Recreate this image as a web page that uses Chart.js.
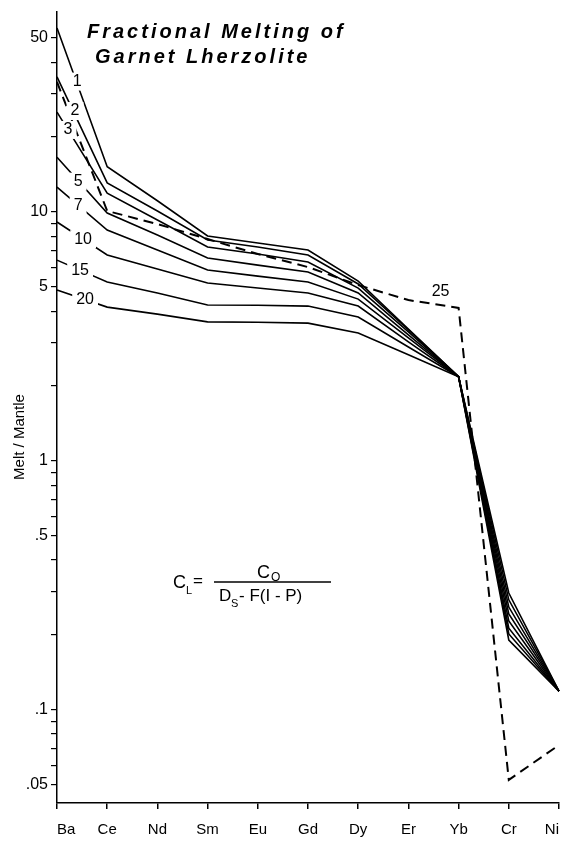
<!DOCTYPE html>
<html>
<head>
<meta charset="utf-8">
<title>Fractional Melting of Garnet Lherzolite</title>
<script src="https://cdn.jsdelivr.net/npm/chart.js@4.4.1/dist/chart.umd.min.js"></script>
<style>
  html, body { margin: 0; padding: 0; background: #fff; }
  #wrap { width: 564px; height: 841px; }
</style>
</head>
<body>
<div id="wrap"><canvas id="meltChart" width="564" height="841"></canvas></div>
<script>
// elements along the bottom
const elements = ['Ba', 'Ce', 'Nd', 'Sm', 'Eu', 'Gd', 'Dy', 'Er', 'Yb', 'Cr', 'Ni'];

// melt / mantle ratio, one array per percent of melting
const melt1  = [54.8, 15.2, 11.1, 8.01, 7.51, 7.04, 5.28, 3.39, 2.18, 0.191, 0.119];
const melt2  = [34.9, 13.1, 10.1, 7.72, 7.24, 6.72, 5.14, 3.36, 2.18, 0.202, 0.119];
const melt3  = [25.2, 11.9, 9.29, 7.24, 6.78, 6.30, 4.95, 3.30, 2.18, 0.213, 0.119];
const melt5  = [16.6, 9.91, 8.08, 6.54, 6.12, 5.74, 4.73, 3.21, 2.18, 0.228, 0.119];
const melt7  = [12.6, 8.47, 7.04, 5.85, 5.53, 5.24, 4.47, 3.12, 2.18, 0.243, 0.119];
const melt10 = [9.12, 6.72, 5.90, 5.19, 4.95, 4.73, 4.19, 3.01, 2.18, 0.259, 0.119];
const melt15 = [6.41, 5.24, 4.73, 4.23, 4.22, 4.19, 3.79, 2.87, 2.18, 0.277, 0.119];
const melt20 = [4.86, 4.15, 3.89, 3.62, 3.61, 3.58, 3.27, 2.67, 2.18, 0.295, 0.119];
// dashed curve
const melt25 = [33.3, 10.1, 8.95, 7.79, 6.78, 6.01, 5.09, 4.43, 4.12, 0.0524, 0.0723];

const curveNames = ['1', '2', '3', '5', '7', '10', '15', '20', '25'];

// y ticks: every mark on the axis, and the ones that carry a number
const yTickValues = [0.05, 0.06, 0.07, 0.08, 0.09, 0.1, 0.2, 0.3, 0.4, 0.5, 0.6, 0.7, 0.8, 0.9,
  1, 2, 3, 4, 5, 6, 7, 8, 9, 10, 20, 30, 40, 50];
const yLabelValues = [50, 10, 5, 1, 0.5, 0.1, 0.05];
const yLabelText = ['50', '10', '5', '1', '.5', '.1', '.05'];

// where each curve label sits: segment index, fraction along it, shift, white box
const labelSpots = [
  { seg: 0, t: 0.40, dy: -2, box: true },
  { seg: 0, t: 0.36, dy: -4, box: true },
  { seg: 0, t: 0.22, dy: 0, box: true },
  { seg: 0, t: 0.42, dy: 1, box: true },
  { seg: 0, t: 0.42, dy: 1, box: true },
  { seg: 0, t: 0.52, dy: 0, box: true },
  { seg: 0, t: 0.46, dy: 0, box: true },
  { seg: 0, t: 0.56, dy: 0, box: true },
  { seg: 7, t: 0.64, dy: -13, box: false }
];

const FONT = '"Liberation Sans", Arial, sans-serif';

const allSeries = [melt1, melt2, melt3, melt5, melt7, melt10, melt15, melt20, melt25];
const datasets = allSeries.map((vals, i) => {
  const dashed = i === allSeries.length - 1;
  return {
    label: curveNames[i],
    data: vals,
    borderColor: '#000',
    borderWidth: dashed ? 2 : 1.6,
    borderDash: dashed ? [10, 6] : [],
    pointRadius: 0,
    tension: 0,
    fill: false
  };
});

// curve numbers, title, formula and the y axis name
const annotations = {
  id: 'annotations',
  afterDatasetsDraw(chart) {
    const ctx = chart.ctx;
    ctx.save();
    ctx.font = '16px ' + FONT;
    ctx.textAlign = 'center';
    ctx.textBaseline = 'middle';
    chart.data.datasets.forEach((ds, i) => {
      const spot = labelSpots[i];
      const pts = chart.getDatasetMeta(i).data;
      const a = pts[spot.seg], b = pts[spot.seg + 1];
      const x = a.x + (b.x - a.x) * spot.t;
      const y = a.y + (b.y - a.y) * spot.t + spot.dy;
      const w = ctx.measureText(ds.label).width;
      if (spot.box) {
        ctx.fillStyle = '#fff';
        ctx.fillRect(x - w / 2 - 4, y - 9, w + 8, 18);
      }
      ctx.fillStyle = '#000';
      ctx.fillText(ds.label, x, y);
    });

    // title
    ctx.textAlign = 'left';
    ctx.textBaseline = 'alphabetic';
    ctx.font = 'italic bold 20px ' + FONT;
    ctx.letterSpacing = '3px';
    ctx.fillText('Fractional Melting of', 87, 38);
    ctx.fillText('Garnet Lherzolite', 95, 63);
    ctx.letterSpacing = '0px';

    // formula
    ctx.font = '18px ' + FONT;
    ctx.fillText('C', 173, 588);
    ctx.font = '11px ' + FONT;
    ctx.fillText('L', 186, 594);
    ctx.font = '17px ' + FONT;
    ctx.fillText('=', 193, 586);
    ctx.beginPath();
    ctx.lineWidth = 1.5;
    ctx.strokeStyle = '#000';
    ctx.moveTo(214, 582);
    ctx.lineTo(331, 582);
    ctx.stroke();
    ctx.font = '18px ' + FONT;
    ctx.fillText('C', 257, 578);
    ctx.font = '12px ' + FONT;
    ctx.fillText('O', 271, 581);
    ctx.font = '17px ' + FONT;
    ctx.fillText('D', 219, 601);
    ctx.font = '11px ' + FONT;
    ctx.fillText('S', 231, 607);
    ctx.font = '17px ' + FONT;
    ctx.fillText('- F(I - P)', 239, 601);

    // y axis name
    ctx.translate(20, 437);
    ctx.rotate(-Math.PI / 2);
    ctx.textAlign = 'center';
    ctx.textBaseline = 'middle';
    ctx.font = '15px ' + FONT;
    ctx.fillText('Melt / Mantle', 0, 0);
    ctx.restore();
  }
};

const ctx = document.getElementById('meltChart').getContext('2d');
new Chart(ctx, {
  type: 'line',
  data: { labels: elements, datasets: datasets },
  options: {
    responsive: false,
    animation: false,
    devicePixelRatio: 1,
    layout: { padding: { top: 12, right: 5, left: 0, bottom: 0 } },
    plugins: {
      legend: { display: false },
      tooltip: { enabled: false },
      title: { display: false }
    },
    scales: {
      x: {
        type: 'category',
        offset: false,
        afterFit(scale) {
          scale.height = 38;
          scale.paddingLeft = 0;
          scale.paddingRight = 0;
        },
        grid: { drawOnChartArea: false, drawTicks: true, tickLength: 6, color: '#000', lineWidth: 1.5 },
        border: { color: '#000', width: 1.5 },
        ticks: {
          color: '#000',
          font: { family: FONT, size: 15 },
          padding: 12,
          maxRotation: 0,
          autoSkip: false,
          align: 'inner'
        }
      },
      y: {
        type: 'logarithmic',
        min: 0.0423,
        max: 63.6,
        afterFit(scale) {
          scale.width = 57;
          scale.paddingTop = 0;
          scale.paddingBottom = 0;
        },
        afterBuildTicks(scale) {
          scale.ticks = yTickValues.map(v => ({ value: v }));
        },
        grid: { drawOnChartArea: false, drawTicks: true, tickLength: 6, color: '#000', lineWidth: 1.2 },
        border: { color: '#000', width: 1.5 },
        ticks: {
          autoSkip: false,
          color: '#000',
          padding: 3,
          font: { family: FONT, size: 16 },
          callback(value) {
            const k = yLabelValues.indexOf(value);
            return k >= 0 ? yLabelText[k] : '';
          }
        }
      }
    }
  },
  plugins: [annotations]
});
</script>
</body>
</html>
